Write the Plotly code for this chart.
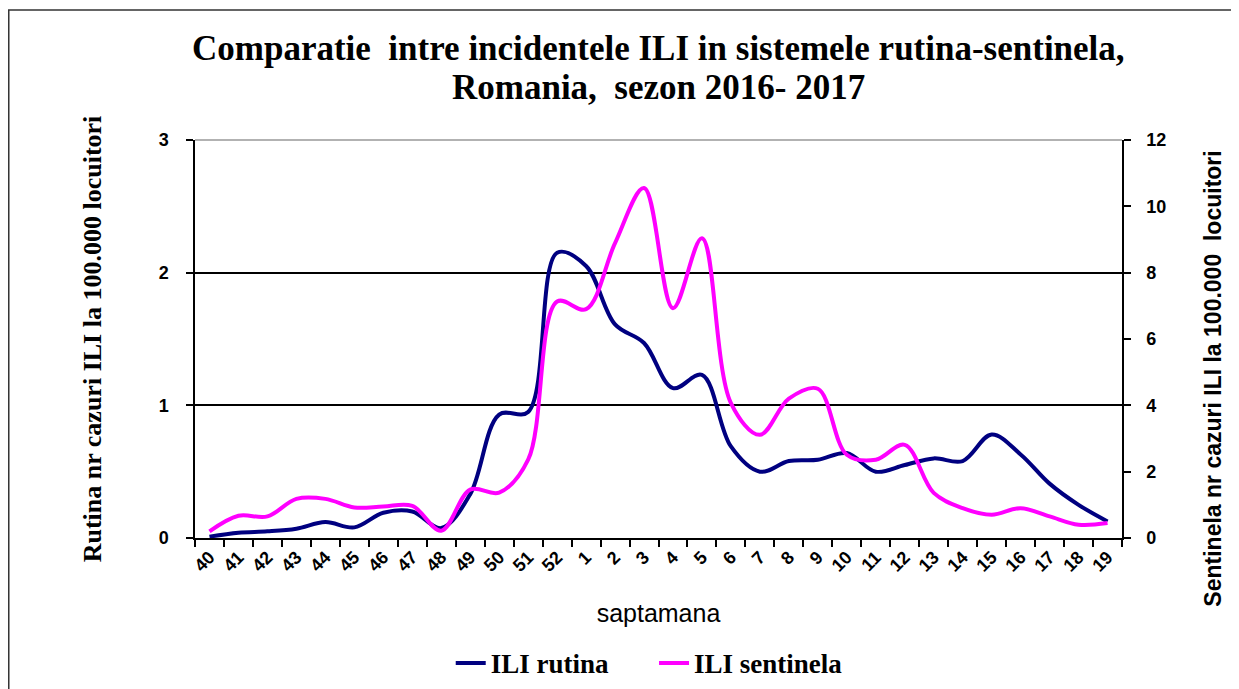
import plotly.graph_objects as go

# saptamana (weeks) 40..52, 1..19
weeks = [str(w) for w in range(40, 53)] + [str(w) for w in range(1, 20)]

# ILI rutina (left axis)
rutina = [0.01, 0.04, 0.05, 0.07, 0.12, 0.08, 0.19, 0.20, 0.075, 0.33, 0.93, 0.95, 2.15,
          2.05, 1.61, 1.47, 1.13, 1.23, 0.69, 0.50, 0.58, 0.59, 0.64, 0.50, 0.55, 0.60,
          0.58, 0.78, 0.63, 0.41, 0.25, 0.125]

# ILI sentinela (right axis)
sentinela = [0.2, 0.67, 0.65, 1.18, 1.18, 0.92, 0.95, 0.97, 0.22, 1.46, 1.37, 2.36, 7.13,
             6.9, 8.89, 10.55, 6.93, 9.04, 4.07, 3.11, 4.2, 4.5, 2.51, 2.36, 2.81, 1.36,
             0.90, 0.70, 0.90, 0.65, 0.40, 0.45]

title_lines = ["Comparatie  intre incidentele ILI in sistemele rutina-sentinela,",
               "Romania,  sezon 2016- 2017"]

navy = "#000080"
magenta = "#FF00FF"
serif_b = dict(family="Liberation Serif, Times New Roman, serif", color="black", weight="bold")
sans_b = dict(family="Liberation Sans, Arial, sans-serif", color="black", weight="bold")
gap = "\u00a0" * 6

fig = go.Figure()
fig.add_trace(go.Scatter(x=weeks, y=rutina, name="ILI rutina" + gap, mode="lines",
                         line=dict(color=navy, width=4, shape="spline", smoothing=1.0)))
fig.add_trace(go.Scatter(x=weeks, y=sentinela, name="ILI sentinela", mode="lines", yaxis="y2",
                         line=dict(color=magenta, width=4, shape="spline", smoothing=1.0)))

# title as two annotations so the line gap can be set
for txt, ty in zip(title_lines, [1.231, 1.131]):
    fig.add_annotation(text=txt, xref="paper", yref="paper", x=0.5, y=ty,
                       xanchor="center", yanchor="middle", showarrow=False,
                       font=dict(size=35, **serif_b))

# right axis title (sits a bit below the plot centre in the original)
fig.add_annotation(text="Sentinela nr cazuri ILI la 100.000  locuitori", textangle=-90,
                   xref="paper", yref="paper", x=1.098, y=0.40,
                   xanchor="center", yanchor="middle", showarrow=False,
                   font=dict(size=23, **sans_b))

fig.update_layout(
    width=1231, height=681,
    margin=dict(l=187, r=117, t=132, b=151, autoexpand=False),
    paper_bgcolor="white", plot_bgcolor="white",
    xaxis=dict(type="category", range=[-0.5, len(weeks) - 0.5], automargin=False,
               tickangle=-45, tickson="boundaries",
               ticks="outside", ticklen=7, tickcolor="black", tickwidth=1.5,
               showline=True, linecolor="black", linewidth=1.5, showgrid=False,
               tickfont=dict(size=18, **sans_b),
               title=dict(text="saptamana", standoff=30,
                          font=dict(size=25, family="Liberation Sans, Arial, sans-serif", color="black"))),
    yaxis=dict(range=[0, 3], dtick=1, automargin=False,
               ticks="outside", ticklen=7, tickcolor="black", tickwidth=1.5, ticklabelstandoff=14,
               showline=True, linecolor="black", linewidth=1.5,
               showgrid=True, gridcolor="black", gridwidth=1.5, zeroline=False,
               tickfont=dict(size=18, **sans_b),
               title=dict(text="Rutina nr cazuri ILI la 100.000 locuitori", standoff=50,
                          font=dict(size=26, **serif_b))),
    yaxis2=dict(range=[0, 12], dtick=2, overlaying="y", side="right", automargin=False,
                ticks="outside", ticklen=7, tickcolor="black", tickwidth=1.5, ticklabelstandoff=12,
                showline=True, linecolor="black", linewidth=1.5, showgrid=False, zeroline=False,
                tickfont=dict(size=18, **sans_b)),
    legend=dict(orientation="h", x=0.49, xanchor="center", y=-0.315, yanchor="middle",
                font=dict(size=27, **serif_b), traceorder="normal"),
    shapes=[dict(type="rect", xref="paper", yref="paper",
                 x0=-0.2009, x1=1.124, y0=-0.4, y1=1.3266,
                 line=dict(color="#333333", width=1.5)),
            dict(type="line", xref="paper", yref="paper", x0=0, x1=1, y0=1, y1=1,
                 line=dict(color="#999999", width=1.5))],
)

fig.write_html("out.html")
